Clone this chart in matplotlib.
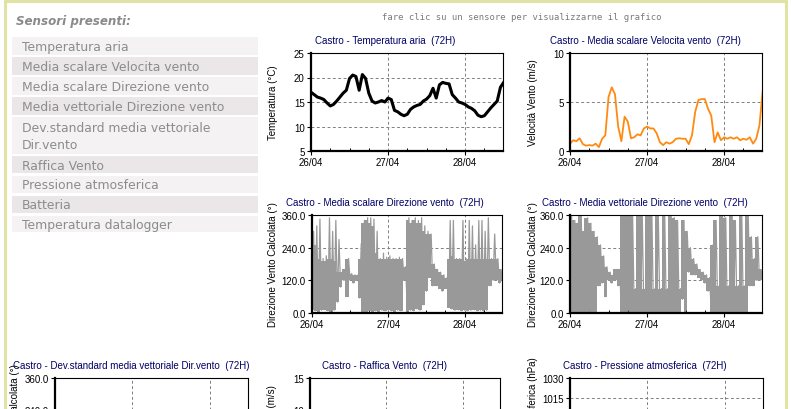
import numpy as np
import matplotlib
matplotlib.use("Agg")
import matplotlib.pyplot as plt
from matplotlib.patches import Rectangle
from matplotlib.lines import Line2D

# ------------------------------------------------------------------ data
DAYS = ["26/04", "27/04", "28/04"]
HOURS = list(range(61))          # hourly samples from 26/04 00:00

SENSORS = ["Temperatura aria", "Media scalare Velocita vento",
           "Media scalare Direzione vento", "Media vettoriale Direzione vento",
           "Dev.standard media vettoriale\nDir.vento", "Raffica Vento",
           "Pressione atmosferica", "Batteria", "Temperatura datalogger"]

temp = [17.0, 16.5, 16.0, 15.8, 15.5, 14.8, 14.2, 14.5, 15.2, 16.0,
        16.8, 17.4, 19.8, 20.5, 20.2, 17.4, 20.6, 19.8, 16.8, 15.2,
        14.8, 15.0, 15.3, 15.0, 15.8, 15.5, 13.3, 13.0, 12.5, 12.2,
        12.5, 13.5, 14.0, 14.3, 14.5, 15.2, 15.6, 16.3, 17.8, 15.8,
        18.5, 19.0, 18.8, 18.7, 16.5, 15.8, 15.0, 14.8, 14.5, 14.0,
        13.7, 13.2, 12.3, 12.0, 12.2, 13.0, 13.8, 14.5, 15.2, 18.0,
        19.0]

wind = [0.75, 1.1, 1.0, 1.3, 0.7, 0.55, 0.6, 0.55, 0.75, 0.4,
        1.25, 1.6, 5.5, 6.5, 5.8, 2.5, 1.0, 3.5, 3.0, 1.3,
        1.4, 1.7, 1.6, 2.3, 2.5, 2.3, 2.3, 1.8, 0.9, 0.6,
        0.9, 0.75, 0.9, 1.25, 1.3, 1.25, 1.25, 0.7, 1.6, 4.0,
        5.2, 5.3, 5.3, 4.3, 3.6, 0.9, 1.9, 1.1, 1.4, 1.25,
        1.4, 1.25, 1.4, 1.1, 1.25, 1.15, 1.4, 0.75, 1.25, 2.6,
        6.1]

# direction: min / dense top / max reached within each hour
dir_s_lo = [10, 8, 5, 10, 12, 8, 5, 10, 40, 95,
            120, 60, 120, 110, 120, 55, 5, 0, 8, 5,
            8, 5, 10, 8, 10, 8, 5, 10, 8, 120,
            5, 10, 8, 15, 10, 30, 80, 130, 100, 100,
            90, 80, 90, 20, 15, 10, 12, 8, 10, 8,
            10, 12, 8, 10, 8, 10, 100, 120, 120, 110,
            120]
dir_s_mid = [280, 250, 200, 190, 190, 200, 200, 190, 150, 150,
             160, 200, 145, 140, 140, 200, 330, 340, 330, 320,
             220, 200, 200, 200, 200, 200, 200, 200, 200, 170,
             340, 330, 340, 330, 330, 300, 290, 290, 180, 160,
             150, 140, 130, 200, 210, 200, 200, 200, 190, 200,
             200, 200, 200, 200, 200, 200, 200, 200, 200, 160,
             150]
dir_s_hi = [300, 320, 345, 200, 210, 350, 300, 340, 270, 150,
            160, 200, 145, 140, 140, 255, 340, 350, 350, 345,
            300, 200, 220, 205, 210, 200, 200, 205, 200, 170,
            350, 340, 350, 340, 350, 320, 300, 290, 180, 160,
            150, 140, 130, 340, 340, 200, 200, 340, 200, 340,
            320, 250, 340, 340, 300, 350, 200, 290, 200, 160,
            150]
dir_v_lo = [0, 0, 0, 0, 0, 0, 0, 0, 0, 100,
            110, 60, 120, 110, 120, 100, 0, 0, 0, 0,
            0, 0, 0, 0, 0, 0, 0, 0, 0, 0,
            0, 0, 0, 0, 0, 50, 0, 150, 140, 140,
            130, 120, 110, 80, 0, 0, 0, 0, 0, 0,
            0, 0, 0, 0, 0, 0, 100, 100, 120, 120,
            120]
dir_v_hi = [360, 340, 330, 360, 300, 350, 330, 300, 280, 250,
            210, 170, 150, 140, 160, 160, 360, 360, 360, 360,
            90, 360, 360, 90, 360, 360, 90, 360, 90, 360,
            90, 360, 350, 340, 90, 340, 300, 240, 200, 180,
            160, 150, 140, 130, 250, 340, 100, 360, 350, 100,
            360, 340, 100, 360, 100, 360, 280, 200, 280, 160,
            150]

# ---------------------------------------------------------------- figure
W, H = 791, 410
fig = plt.figure(figsize=(W / 100, H / 100), dpi=100)
fig.patch.set_facecolor("white")

CHART_FONT = "Liberation Sans"
NAVY = "#000066"
GRID = "#808080"
GRAY = "#999999"
ORANGE = "#ff8a10"


def ax_at(x0, y0, x1, y1):
    return fig.add_axes([x0 / W, 1 - y1 / H, (x1 - x0) / W, (y1 - y0) / H])


def ftext(x, y, s, **kw):
    fig.text(x / W, 1 - y / H, s, **kw)


def frect(x0, y0, x1, y1, fc):
    fig.add_artist(Rectangle((x0 / W, 1 - y1 / H), (x1 - x0) / W, (y1 - y0) / H,
                             transform=fig.transFigure, fc=fc, ec="none", zorder=0))


def chart(box, ylim, yticks, yfmt, title, title_x, ylabel, ylabel_x, xlabels=True):
    ax = ax_at(*box)
    ax.set_xlim(0, 59.8)
    ax.set_ylim(*ylim)
    ax.set_yticks(yticks)
    ax.set_yticklabels([yfmt.format(v) for v in yticks])
    ax.set_xticks([0, 24, 48])
    ax.set_xticklabels(DAYS if xlabels else [])
    ax.set_xticks([6, 12, 18, 30, 36, 42, 54], minor=True)
    ax.tick_params(which="major", length=3, width=0.8, pad=1.5,
                   labelsize=7, labelfontfamily=CHART_FONT, colors="black")
    ax.tick_params(axis="x", which="minor", direction="in", length=2.5, width=0.7)
    for s in ("left", "bottom"):
        ax.spines[s].set_linewidth(1.6)
    for s in ("top", "right"):
        ax.spines[s].set_linewidth(0.8)
    for v in yticks:
        if ylim[0] < v < ylim[1]:
            ax.axhline(v, color=GRID, lw=0.7, ls=(0, (3, 2.5)), zorder=0.5)
    for d in (24, 48):
        ax.axvline(d, color=GRID, lw=0.7, ls=(0, (3, 2.5)), zorder=0.5)
    ftext(title_x, box[1] - 13, title, ha="center", va="center",
          fontsize=7, family=CHART_FONT, color=NAVY)
    ftext(ylabel_x, (box[1] + box[3]) / 2, ylabel, ha="center", va="center",
          rotation=90, fontsize=7, family=CHART_FONT)
    return ax


def zigzag(lo, hi):
    t = np.column_stack([HOURS, np.array(HOURS) + 0.5]).ravel()
    y = np.column_stack([lo, hi]).ravel()
    return t, y


# ------------------------------------------------------------ page frame
BORDER = "#e0e3a4"
fig.add_artist(Line2D([5 / W, 5 / W], [0, 1], transform=fig.transFigure,
                      color=BORDER, lw=2.2))
fig.add_artist(Line2D([5 / W, 786 / W], [1 - 1.5 / H, 1 - 1.5 / H],
                      transform=fig.transFigure, color=BORDER, lw=2.2))
fig.add_artist(Line2D([786 / W, 786 / W], [0, 1], transform=fig.transFigure,
                      color=BORDER, lw=2.2))

# ------------------------------------------------------------ sensor list
ftext(16, 21, "Sensori presenti:", ha="left", va="center", fontsize=8.6,
      fontweight="bold", style="italic", color="#8a8a8a", family="DejaVu Sans")
ftext(522, 17, "fare clic su un sensore per visualizzarne il grafico",
      ha="center", va="center", fontsize=6.4, color="#7a7a7a",
      family="DejaVu Sans Mono")

rows = [(38, 56), (58, 76), (78, 96), (98, 116), (118, 155),
        (157, 174), (177, 194), (197, 214), (217, 233)]
for i, (name, (y0, y1)) in enumerate(zip(SENSORS, rows)):
    frect(12, y0, 258, y1, "#f4f2f2" if i % 2 == 0 else "#ebe7e9")
    ftext(22, (y0 + y1) / 2 + 0.5, name, ha="left", va="center", fontsize=8.9,
          color="#8c8c8c", family="DejaVu Sans", linespacing=1.45)

# ---------------------------------------------------------------- charts
ax1 = chart((311, 54, 503, 152), (5, 25), [5, 10, 15, 20, 25], "{:d}",
            "Castro - Temperatura aria  (72H)", 385, "Temperatura (°C)", 273)
ax1.plot(HOURS, temp, color="black", lw=2.2)

ax2 = chart((570, 54, 762, 152), (0, 10), [0, 5, 10], "{:d}",
            "Castro - Media scalare Velocita vento  (72H)", 645,
            "Velocità Vento (m/s)", 533)
ax2.plot(HOURS, wind, color=ORANGE, lw=1.3)

ax3 = chart((312, 216, 502, 314), (0, 360), [0, 120, 240, 360], "{:.1f}",
            "Castro - Media scalare Direzione vento  (72H)", 385,
            "Direzione Vento Calcolata (°)", 273)
ax3.fill_between(HOURS, dir_s_lo, dir_s_mid, step="mid", color=GRAY, lw=0)
ax3.plot(*zigzag(dir_s_lo, dir_s_hi), color=GRAY, lw=0.9)

ax4 = chart((570, 216, 762, 314), (0, 360), [0, 120, 240, 360], "{:.1f}",
            "Castro - Media vettoriale Direzione vento  (72H)", 645,
            "Direzione Vento Calcolata (°)", 533)
ax4.fill_between(HOURS, dir_v_lo, dir_v_hi, step="mid", color=GRAY, lw=0)
ax4.plot(*zigzag(dir_v_lo, dir_v_hi), color=GRAY, lw=0.9)

# bottom row: only the top strip of these charts is on screen
chart((55, 379, 248, 475), (0, 360), [240, 360], "{:.1f}",
      "Castro - Dev.standard media vettoriale Dir.vento  (72H)", 131,
      "Direzione Vento Calcolata (°)", 15, xlabels=False)
chart((310, 379, 500, 475), (0, 15), [10, 15], "{:d}",
      "Castro - Raffica Vento  (72H)", 385, "Raffica Vento (m/s)", 272,
      xlabels=False)
chart((570, 379, 763, 459), (970, 1030), [1015, 1030], "{:d}",
      "Castro - Pressione atmosferica  (72H)", 645,
      "Pressione atmosferica (hPa)", 533, xlabels=False)

fig.savefig("out.png", dpi=100, facecolor="white")
